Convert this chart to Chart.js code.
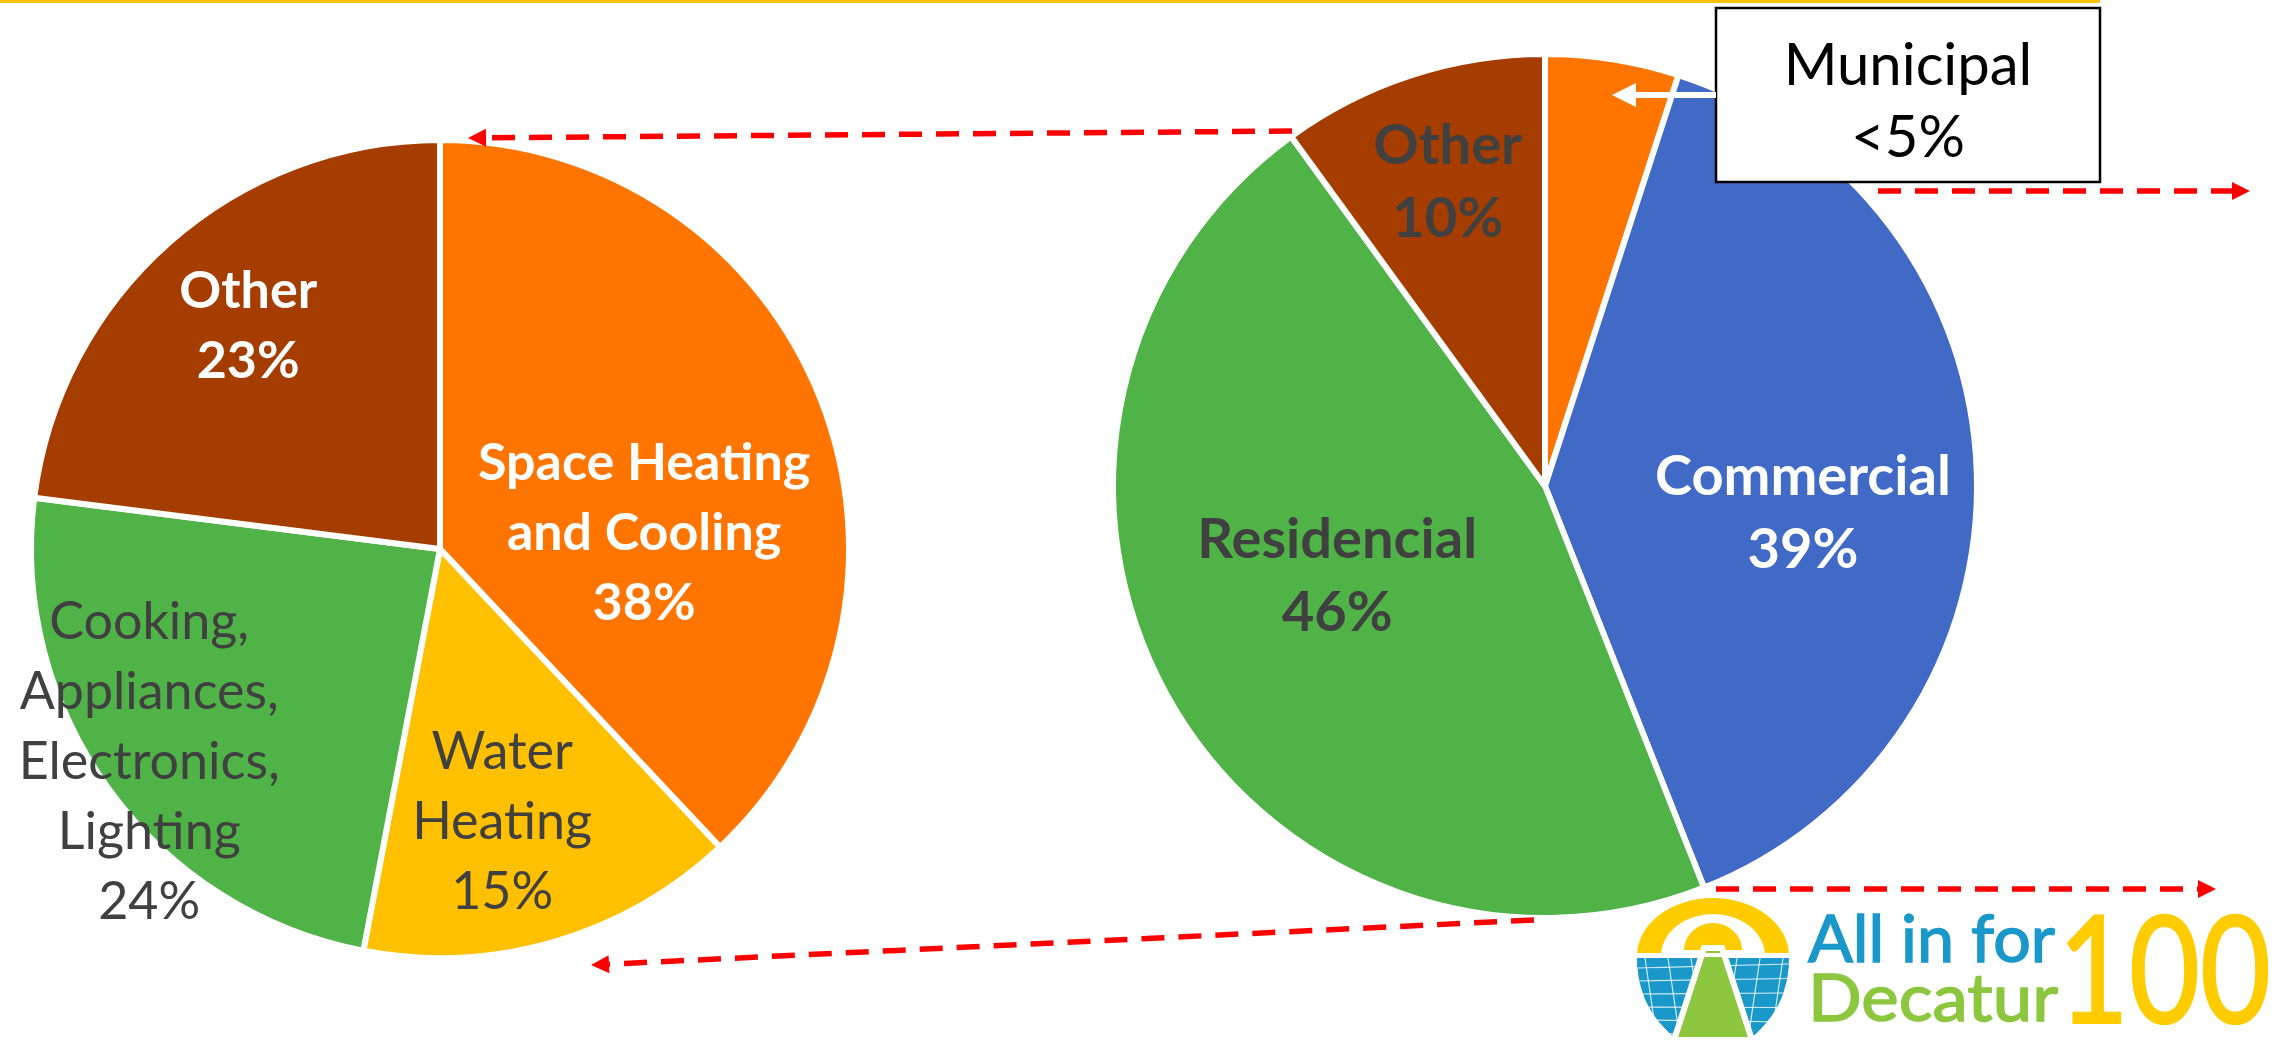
<!DOCTYPE html>
<html>
<head>
<meta charset="utf-8">
<script src="https://cdn.jsdelivr.net/npm/chart.js@4.4.1/dist/chart.umd.min.js"></script>
<style>
  html, body { margin: 0; padding: 0; background: #fff; }
  #page { position: relative; width: 2275px; height: 1040px; overflow: hidden; background: #fff; }
  .topline { position: absolute; left: 0; top: 0; width: 2100px; height: 3px; background: #FFC000; }
  #leftChart { position: absolute; left: 0; top: 0; }
  #rightChart { position: absolute; left: 1000px; top: 0; }
  #overlay { position: absolute; left: 0; top: 0; }
</style>
</head>
<body>
<div id="page">
  <div class="topline"></div>
  <canvas id="leftChart" width="1000" height="1040"></canvas>
  <canvas id="rightChart" width="1275" height="1040"></canvas>
  <svg id="overlay" width="2275" height="1040" xmlns="http://www.w3.org/2000/svg"></svg>
</div>
<script>
// energy use inside buildings (left pie)
const useCategories = [['Space Heating', 'and Cooling'], ['Water', 'Heating'], ['Cooking,', 'Appliances,', 'Electronics,', 'Lighting'], ['Other']];
const useShares = [38, 15, 24, 23];
const useColors = ['#FF7500', '#FFC000', '#50B347', '#A63D00'];

// energy use by sector (right pie)
const sectorCategories = ['Municipal', 'Commercial', 'Residencial', 'Other'];
const sectorShares = [5, 39, 46, 10];
const sectorColors = ['#FF7500', '#416AC6', '#50B347', '#A63D00'];
const municipalNote = '<5%';

const FONT = 'Lato, "Open Sans", sans-serif';

// writes category + percent inside each slice
const sliceLabels = {
    id: 'sliceLabels',
    afterDatasetsDraw(chart, args, opts) {
        const ctx = chart.ctx;
        const values = chart.data.datasets[0].data;
        chart.getDatasetMeta(0).data.forEach((arc, i) => {
            const spot = opts.spots[i];
            if (!spot) return;
            const lines = [].concat(chart.data.labels[i], values[i] + '%');
            const x = arc.x + spot[0] * arc.outerRadius;
            const y = arc.y + spot[1] * arc.outerRadius;
            ctx.save();
            ctx.font = opts.weights[i] + ' ' + opts.size + 'px ' + FONT;
            ctx.fillStyle = opts.colors[i];
            ctx.textAlign = 'center';
            ctx.textBaseline = 'middle';
            lines.forEach((t, k) => {
                ctx.fillText(t, x, y + (k - (lines.length - 1) / 2) * opts.lineHeight);
            });
            ctx.restore();
        });
    }
};

function pie(id, labels, data, colors, padding, labelOpts) {
    return new Chart(document.getElementById(id), {
        type: 'pie',
        data: {
            labels: labels,
            datasets: [{
                data: data,
                backgroundColor: colors,
                borderColor: '#ffffff',
                borderWidth: 6
            }]
        },
        options: {
            responsive: false,
            animation: false,
            layout: { padding: padding },
            plugins: {
                legend: { display: false },
                tooltip: { enabled: false },
                sliceLabels: labelOpts
            }
        },
        plugins: [sliceLabels]
    });
}

pie('leftChart', useCategories, useShares, useColors,
    { left: 28, top: 137, right: 148, bottom: 79 },
    {
        spots: [[0.499, -0.038], [0.152, 0.667], [-0.711, 0.521], [-0.469, -0.544]],
        colors: ['#ffffff', '#404040', '#404040', '#ffffff'],
        weights: ['bold', 'normal', 'normal', 'bold'],
        size: 52,
        lineHeight: 70
    });

pie('rightChart', sectorCategories, sectorShares, sectorColors,
    { left: 110, top: 51, right: 295, bottom: 119 },
    {
        spots: [null, [0.597, 0.064], [-0.481, 0.21], [-0.225, -0.702]],
        colors: ['#ffffff', '#ffffff', '#404040', '#404040'],
        weights: ['bold', 'bold', 'bold', 'bold'],
        size: 56,
        lineHeight: 73
    });

// decorations: dashed arrows, callout box, logo
const svg = document.getElementById('overlay');
const NS = 'http://www.w3.org/2000/svg';
function el(tag, attrs, text) {
    const e = document.createElementNS(NS, tag);
    for (const k in attrs) e.setAttribute(k, attrs[k]);
    if (text !== undefined) e.textContent = text;
    svg.appendChild(e);
    return e;
}
function arrow(x1, y1, x2, y2, color, width, headLen, headHalf, dash) {
    const len = Math.hypot(x2 - x1, y2 - y1);
    const ux = (x2 - x1) / len, uy = (y2 - y1) / len;
    const bx = x2 - ux * headLen, by = y2 - uy * headLen;
    el('line', { x1: x1, y1: y1, x2: bx, y2: by, stroke: color, 'stroke-width': width, 'stroke-dasharray': dash || 'none' });
    const pts = [[x2, y2], [bx - uy * headHalf, by + ux * headHalf], [bx + uy * headHalf, by - ux * headHalf]];
    el('polygon', { points: pts.map(p => p.join(',')).join(' '), fill: color });
}

arrow(1292, 131, 468, 138, '#FF0000', 5.5, 18, 9, '23 14');
arrow(1534, 920, 591, 965, '#FF0000', 5.5, 18, 9, '23 14');
arrow(1878, 191, 2250, 191, '#FF0000', 5.5, 18, 9, '23 14');
arrow(1716, 889, 2216, 889, '#FF0000', 5.5, 18, 9, '23 14');

// Municipal callout
el('rect', { x: 1716, y: 8, width: 384, height: 174, fill: '#ffffff', stroke: '#000000', 'stroke-width': 2.5 });
el('text', { x: 1908, y: 62, 'text-anchor': 'middle', 'dominant-baseline': 'central', 'font-family': FONT, 'font-size': 58, fill: '#000' }, sectorCategories[0]);
el('text', { x: 1908, y: 134, 'text-anchor': 'middle', 'dominant-baseline': 'central', 'font-family': FONT, 'font-size': 58, fill: '#000' }, municipalNote);
arrow(1716, 95, 1612, 95, '#ffffff', 6, 24, 12);

// logo
el('path', { d: 'M1637,956 A76,58 0 0 1 1789,956 Z', fill: '#FFCC00' });
el('path', { d: 'M1661,956 A52,42 0 0 1 1765,956 Z', fill: '#ffffff' });
el('path', { d: 'M1684,950 A29,27 0 0 1 1742,950 Z', fill: '#FFCC00' });
el('path', { d: 'M1637,958 L1789,958 C1789,995 1772,1022 1748,1040 L1678,1040 C1654,1022 1637,995 1637,958 Z', fill: '#1A98C9' });
for (let i = 0; i < 6; i++) {
    const yy = 968 + i * 13;
    el('line', { x1: 1637, y1: yy, x2: 1789, y2: yy - 4 + i * 1.5, stroke: '#ffffff', 'stroke-width': 1.2, opacity: 0.8 });
}
for (let i = 0; i < 7; i++) {
    const xx = 1645 + i * 23;
    el('line', { x1: xx, y1: 958, x2: xx + (xx < 1713 ? 12 : -12), y2: 1040, stroke: '#ffffff', 'stroke-width': 1.2, opacity: 0.8 });
}
el('path', { d: 'M1704,948 L1722,948 L1752,1040 L1674,1040 Z', fill: '#8DC63F', stroke: '#ffffff', 'stroke-width': 6 });
el('line', { x1: 1637, y1: 955, x2: 1789, y2: 955, stroke: '#ffffff', 'stroke-width': 4 });
el('text', { x: 1808, y: 962, 'font-family': FONT, 'font-size': 66, fill: '#1A98C9', stroke: '#1A98C9', 'stroke-width': 1.5, textLength: 247, lengthAdjust: 'spacingAndGlyphs' }, 'All in for');
el('text', { x: 1808, y: 1021, 'font-family': FONT, 'font-size': 66, fill: '#8DC63F', stroke: '#8DC63F', 'stroke-width': 1.5, textLength: 250, lengthAdjust: 'spacingAndGlyphs' }, 'Decatur');
el('text', { x: 2058, y: 1023, 'font-family': FONT, 'font-size': 150, fill: '#FFCC00', stroke: '#FFCC00', 'stroke-width': 2, textLength: 213, lengthAdjust: 'spacingAndGlyphs' }, '100');
</script>
</body>
</html>
